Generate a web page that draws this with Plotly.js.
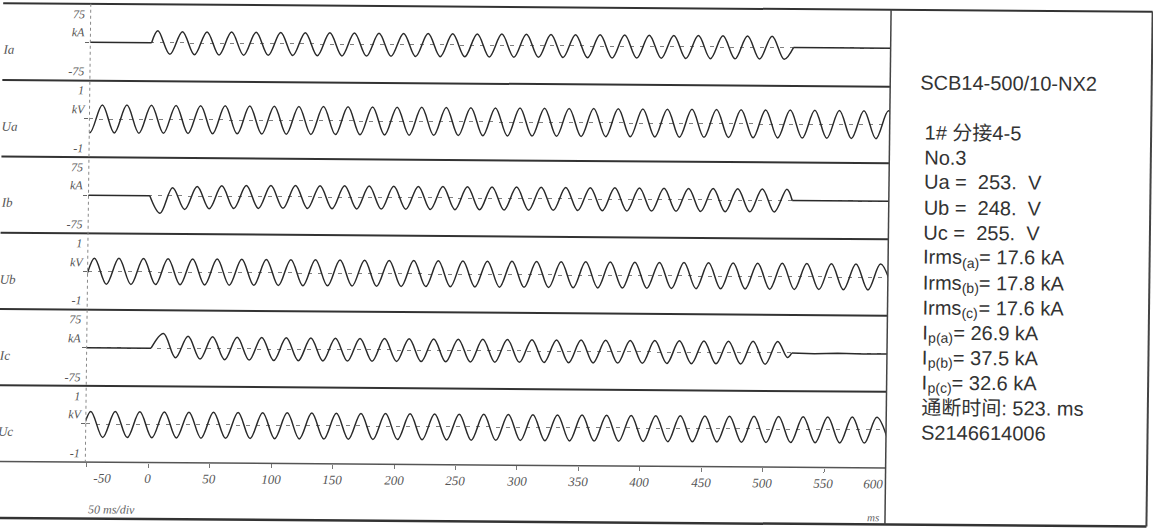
<!DOCTYPE html>
<html><head><meta charset="utf-8">
<script src="https://cdn.plot.ly/plotly-3.0.1.min.js"></script>
<style>
html,body{margin:0;padding:0;background:#fff;overflow:hidden;}
#chart{width:1153px;height:532px;transform-origin:576.5px 266px;transform:matrix(1,0.0075,-0.012,1,0,0);}
</style></head><body><div id="chart"></div>
<script>
// ---------------- data ----------------
const channelNames = ['Ia', 'Ua', 'Ib', 'Ub', 'Ic', 'Uc'];
const scaleTop = ['75', '1', '75', '1', '75', '1'];
const scaleUnit = ['kA', 'kV', 'kA', 'kV', 'kA', 'kV'];
const scaleBottom = ['-75', '-1', '-75', '-1', '-75', '-1'];
const xTickVals = [-50, 0, 50, 100, 150, 200, 250, 300, 350, 400, 450, 500, 550, 600];

// phase voltages: times (ms) of successive crests/troughs and their values (kV)
const uaTimes = [
  -61, -51, -41, -31, -21, -11, -1, 9,
  19, 29, 39, 49, 59, 69, 79, 89,
  99, 109, 119, 129, 139, 149, 159, 169,
  179, 189, 199, 209, 219, 229, 239, 249,
  259, 269, 279, 289, 299, 309, 319, 329,
  339, 349, 359, 369, 379, 389, 399, 409,
  419, 429, 439, 449, 459, 469, 479, 489,
  499, 509, 519, 529, 539, 549, 559, 569,
  579, 589, 599, 609];
const uaKV = [
  0.37, -0.36, 0.37, -0.36, 0.37, -0.36, 0.37, -0.36,
  0.37, -0.36, 0.37, -0.36, 0.37, -0.36, 0.37, -0.36,
  0.37, -0.36, 0.37, -0.36, 0.37, -0.36, 0.37, -0.36,
  0.37, -0.36, 0.37, -0.36, 0.37, -0.36, 0.37, -0.36,
  0.37, -0.36, 0.37, -0.36, 0.37, -0.36, 0.37, -0.36,
  0.37, -0.36, 0.37, -0.36, 0.37, -0.36, 0.37, -0.36,
  0.37, -0.36, 0.37, -0.36, 0.37, -0.36, 0.37, -0.36,
  0.37, -0.36, 0.37, -0.36, 0.37, -0.36, 0.37, -0.36,
  0.37, -0.36, 0.37, -0.36];
const ubTimes = [
  -66, -56, -46, -36, -26, -16, -6, 4,
  14, 24, 34, 44, 54, 64, 74, 84,
  94, 104, 114, 124, 134, 144, 154, 164,
  174, 184, 194, 204, 214, 224, 234, 244,
  254, 264, 274, 284, 294, 304, 314, 324,
  334, 344, 354, 364, 374, 384, 394, 404,
  414, 424, 434, 444, 454, 464, 474, 484,
  494, 504, 514, 524, 534, 544, 554, 564,
  574, 584, 594, 604];
const ubKV = [
  0.35, -0.33, 0.35, -0.33, 0.35, -0.33, 0.35, -0.33,
  0.35, -0.33, 0.35, -0.33, 0.35, -0.33, 0.35, -0.33,
  0.35, -0.33, 0.35, -0.33, 0.35, -0.33, 0.35, -0.33,
  0.35, -0.33, 0.35, -0.33, 0.35, -0.33, 0.35, -0.33,
  0.35, -0.33, 0.35, -0.33, 0.35, -0.33, 0.35, -0.33,
  0.35, -0.33, 0.35, -0.33, 0.35, -0.33, 0.35, -0.33,
  0.35, -0.33, 0.35, -0.33, 0.35, -0.33, 0.35, -0.33,
  0.35, -0.33, 0.35, -0.33, 0.35, -0.33, 0.35, -0.33,
  0.35, -0.33, 0.35, -0.33];
const ucTimes = [
  -67.5, -57.5, -47.5, -37.5, -27.5, -17.5, -7.5, 2.5,
  12.5, 22.5, 32.5, 42.5, 52.5, 62.5, 72.5, 82.5,
  92.5, 102.5, 112.5, 122.5, 132.5, 142.5, 152.5, 162.5,
  172.5, 182.5, 192.5, 202.5, 212.5, 222.5, 232.5, 242.5,
  252.5, 262.5, 272.5, 282.5, 292.5, 302.5, 312.5, 322.5,
  332.5, 342.5, 352.5, 362.5, 372.5, 382.5, 392.5, 402.5,
  412.5, 422.5, 432.5, 442.5, 452.5, 462.5, 472.5, 482.5,
  492.5, 502.5, 512.5, 522.5, 532.5, 542.5, 552.5, 562.5,
  572.5, 582.5, 592.5, 602.5];
const ucKV = [
  0.33, -0.35, 0.33, -0.35, 0.33, -0.35, 0.33, -0.35,
  0.33, -0.35, 0.33, -0.35, 0.33, -0.35, 0.33, -0.35,
  0.33, -0.35, 0.33, -0.35, 0.33, -0.35, 0.33, -0.35,
  0.33, -0.35, 0.33, -0.35, 0.33, -0.35, 0.33, -0.35,
  0.33, -0.35, 0.33, -0.35, 0.33, -0.35, 0.33, -0.35,
  0.33, -0.35, 0.33, -0.35, 0.33, -0.35, 0.33, -0.35,
  0.33, -0.35, 0.33, -0.35, 0.33, -0.35, 0.33, -0.35,
  0.33, -0.35, 0.33, -0.35, 0.33, -0.35, 0.33, -0.35,
  0.33, -0.35, 0.33, -0.35];

// short-circuit currents: onset, crests/troughs, cut-off (ms) and values (kA)
const iaTimes = [-1.5,3.5,13.5,23.5,33.5,43.5,53.5,63.5,73.5,83.5,93.5,103.5,113.5,123.5,133.5,143.5,153.5,163.5,173.5,183.5,193.5,203.5,213.5,223.5,233.5,243.5,253.5,263.5,273.5,283.5,293.5,303.5,313.5,323.5,333.5,343.5,353.5,363.5,373.5,383.5,393.5,403.5,413.5,423.5,433.5,443.5,453.5,463.5,473.5,483.5,493.5,503.5,513.5,521];
const iaKA = [0,25.5,-24.5,24,-25,24,-25,24,-25,24,-25,24,-25,24,-25,24,-25,24,-25,24,-25,24,-25,24,-25,24,-25,24,-25,24,-25,24,-25,24,-25,24,-25,24,-25,24,-25,24,-25,24,-25,24,-25,24,-25,24,-25,24,-25,0];
const ibTimes = [-1.5,7,17,27,37,47,57,67,77,87,97,107,117,127,137,147,157,167,177,187,197,207,217,227,237,247,257,267,277,287,297,307,317,327,337,347,357,367,377,387,397,407,417,427,437,447,457,467,477,487,497,507,517,521.5];
const ibKA = [0,-37.5,17.5,-29,20.5,-27,22.5,-26,23.5,-25.5,24,-25,24.5,-25,24.5,-25,24.5,-25,24.5,-25,24.5,-25,24.5,-25,24.5,-25,24.5,-25,24.5,-25,24.5,-25,24.5,-25,24.5,-25,24.5,-25,24.5,-25,24.5,-25,24.5,-25,24.5,-25,24.5,-25,24.5,-25,24.5,-25,24.5,0];
const icTimes = [1,11,21,31,41,51,61,71,81,91,101,111,121,131,141,151,161,171,181,191,201,211,221,231,241,251,261,271,281,291,301,311,321,331,341,351,361,371,381,391,401,411,421,431,441,451,461,471,481,491,501,511,519,522.5];
const icKA = [0,32,-20,26.5,-22.5,25.5,-23.5,25,-24,25,-24.5,24.5,-24.5,24.5,-24.5,24.5,-24.5,24.5,-24.5,24.5,-24.5,24.5,-24.5,24.5,-24.5,24.5,-24.5,24.5,-24.5,24.5,-24.5,24.5,-24.5,24.5,-24.5,24.5,-24.5,24.5,-24.5,24.5,-24.5,24.5,-24.5,24.5,-24.5,24.5,-24.5,24.5,-24.5,24.5,-24.5,24.5,-9.5,0];
// flat (zero) stretches before onset and after cut-off
const iaIdleTimes = [-62, -1.5, null, 521, 612];
const iaIdleKA = [0, 0, null, 0, 0];
const ibIdleTimes = [-62, -1.5, null, 521.5, 612];
const ibIdleKA = [0, 0, null, 0, 0];
const icIdleTimes = [-62, 1, null, 522.5, 541, 560, 581, 612];
const icIdleKA = [0, 0, null, 0, -1.2, 0.2, -1.2, 0];

// test record
const deviceName = 'SCB14-500/10-NX2';
const tapName = '1# 分接4-5';
const testNo = 'No.3';
const phaseLabels = ['a', 'b', 'c'];
const voltageRMS = [253, 248, 255];
const currentRMS = [17.6, 17.8, 17.6];
const currentPeak = [26.9, 37.5, 32.6];
const breakTimeMs = 523;
const serialNo = 'S2146614006';

// ---------------- layout ----------------
const W = 1153, H = 532;
const X0 = 87.7, X1 = 888;
const T0 = -51.4, T1 = 600.1;
const edges = [7.5, 84.4, 160.9, 237.0, 313.3, 389.5, 465.7];
const FRAME_R = 1149.5, FRAME_B = 522.2;
const px = p => p / W;
const py = p => 1 - p / H;
const WAVE = '#2a2a2a';
const isCurrent = [true, false, true, false, true, false];

const layout = {
  width: W, height: H,
  margin: {l: 0, r: 0, t: 0, b: 0, pad: 0},
  paper_bgcolor: '#ffffff', plot_bgcolor: 'rgba(0,0,0,0)',
  showlegend: false, hovermode: false,
  xaxis: {
    domain: [px(X0), px(X1)], range: [T0, T1], anchor: 'y6',
    showgrid: false, zeroline: false, showline: false,
    tickmode: 'array', tickvals: xTickVals, showticklabels: false,
    ticks: 'outside', ticklen: 4, tickwidth: 1, tickcolor: '#777'
  },
  shapes: [], annotations: []
};

for (let i = 0; i < 6; i++) {
  const key = i === 0 ? 'yaxis' : 'yaxis' + (i + 1);
  const r = isCurrent[i] ? 82 : 1.0;
  layout[key] = {
    domain: [py(edges[i + 1]), py(edges[i])], range: [-r, r], anchor: 'x',
    showgrid: true, tickmode: 'array', tickvals: [0], gridcolor: '#808080',
    griddash: '4px,6px', gridwidth: 1, zeroline: false, showline: false,
    showticklabels: false, ticks: 'outside', ticklen: 4, tickcolor: '#666'
  };
}

const serif = (size, color) => ({family: 'Liberation Serif, DejaVu Serif, serif', size: size, color: color, style: 'italic'});
const SANS_FAMILY = 'Liberation Sans, Arial, Noto Sans CJK SC, sans-serif';
const INFO_SIZE = 20, SUB_SIZE = 14;
const sans = size => ({family: SANS_FAMILY, size: size, color: '#333333'});
const hline = (y, xa, xb, color, width, dash) => ({type: 'line', xref: 'paper', yref: 'paper', x0: px(xa), x1: px(xb), y0: py(y), y1: py(y), line: {color: color, width: width, dash: dash || 'solid'}});
const vline = (x, ya, yb, color, width, dash) => ({type: 'line', xref: 'paper', yref: 'paper', x0: px(x), x1: px(x), y0: py(ya), y1: py(yb), line: {color: color, width: width, dash: dash || 'solid'}});

// frame and separators
layout.shapes.push(hline(edges[0], 0, FRAME_R, '#333', 2));
for (let i = 1; i < 6; i++) layout.shapes.push(hline(edges[i], 0, X1, '#333', 2));
layout.shapes.push(hline(edges[6], 0, X1, '#555', 1.5));
layout.shapes.push(hline(FRAME_B, 0, FRAME_R, '#333', 2.5));
layout.shapes.push(vline(FRAME_R, edges[0], FRAME_B, '#444', 2));
layout.shapes.push(vline(X1, edges[0], FRAME_B, '#444', 1.5));
layout.shapes.push(vline(X0, edges[0], edges[6], '#888', 1, 'dot'));

const ann = (text, x, y, xanchor, font, extra) => Object.assign({text: text, x: x, y: y, xref: 'paper', yref: 'paper', xanchor: xanchor, yanchor: 'middle', showarrow: false, borderpad: 0, borderwidth: 0, font: font}, extra || {});

for (let i = 0; i < 6; i++) {
  const top = edges[i], bot = edges[i + 1], mid = (top + bot) / 2;
  layout.annotations.push(ann(channelNames[i], px(0), py(mid + 8), 'left', serif(13, '#555')));
  layout.annotations.push(ann(scaleTop[i], px(82), py(top + 10), 'right', serif(12, '#555')));
  layout.annotations.push(ann(scaleUnit[i], px(isCurrent[i] ? 82 : 84), py(mid - 9.5), 'right', serif(12, '#555')));
  layout.annotations.push(ann(scaleBottom[i], px(82), py(bot - 9), 'right', serif(12, '#555')));
}
xTickVals.forEach((v, k) => {
  let shift = 0;
  if (k === 0) shift = 15.5;
  if (k === xTickVals.length - 1) shift = -12;
  layout.annotations.push({text: String(v), x: v, xref: 'x', y: py(481), yref: 'paper', xanchor: 'center', yanchor: 'middle', xshift: shift, showarrow: false, borderpad: 0, borderwidth: 0, font: serif(13, '#555')});
});
layout.annotations.push(ann('50 ms/div', px(91), py(513), 'left', serif(12, '#666')));
layout.annotations.push(ann('ms', px(876), py(515), 'center', serif(11, '#666')));

// info panel: plain lines and lines with a subscript drawn as three pieces
const ctx = document.createElement('canvas').getContext('2d');
const textWidth = (s, size) => { ctx.font = size + 'px "Liberation Sans"'; return ctx.measureText(s).width; };
const INFO_X = 923, LINE0 = 129.5, STEP = 25;
const infoRows = [[tapName], [testNo]];
voltageRMS.forEach((v, k) => infoRows.push(['U' + phaseLabels[k] + ' = \u00a0' + v + '. \u00a0V']));
currentRMS.forEach((v, k) => infoRows.push(['Irms', '(' + phaseLabels[k] + ')', '= ' + v.toFixed(1) + ' kA']));
currentPeak.forEach((v, k) => infoRows.push(['I', 'p(' + phaseLabels[k] + ')', '= ' + v.toFixed(1) + ' kA']));
infoRows.push(['通断时间: ' + breakTimeMs + '. ms']);
infoRows.push([serialNo]);

layout.annotations.push(ann(deviceName, px(918), py(80), 'left', sans(INFO_SIZE)));
infoRows.forEach((row, k) => {
  const y = LINE0 + STEP * k;
  if (row.length === 1) {
    layout.annotations.push(ann(row[0], px(INFO_X), py(y), 'left', sans(INFO_SIZE)));
  } else {
    const w0 = textWidth(row[0], INFO_SIZE);
    const w1 = textWidth(row[1], SUB_SIZE);
    layout.annotations.push(ann(row[0], px(INFO_X), py(y), 'left', sans(INFO_SIZE)));
    layout.annotations.push(ann(row[1], px(INFO_X + w0), py(y + 5.5), 'left', sans(SUB_SIZE)));
    layout.annotations.push(ann(row[2], px(INFO_X + w0 + w1 + 0.5), py(y), 'left', sans(INFO_SIZE)));
  }
});

// ---------------- traces ----------------
const wave = (t, v, ya) => ({x: t, y: v, xaxis: 'x', yaxis: ya, type: 'scatter', mode: 'lines', line: {shape: 'spline', smoothing: 1, color: WAVE, width: 1.5}, hoverinfo: 'skip'});
const idle = (t, v, ya) => ({x: t, y: v, xaxis: 'x', yaxis: ya, type: 'scatter', mode: 'lines', connectgaps: false, line: {shape: 'linear', color: WAVE, width: 1.5}, hoverinfo: 'skip'});
const traces = [
  idle(iaIdleTimes, iaIdleKA, 'y'), wave(iaTimes, iaKA, 'y'),
  wave(uaTimes, uaKV, 'y2'),
  idle(ibIdleTimes, ibIdleKA, 'y3'), wave(ibTimes, ibKA, 'y3'),
  wave(ubTimes, ubKV, 'y4'),
  idle(icIdleTimes, icIdleKA, 'y5'), wave(icTimes, icKA, 'y5'),
  wave(ucTimes, ucKV, 'y6')
];

Plotly.newPlot('chart', traces, layout, {staticPlot: true, displayModeBar: false});
</script></body></html>
